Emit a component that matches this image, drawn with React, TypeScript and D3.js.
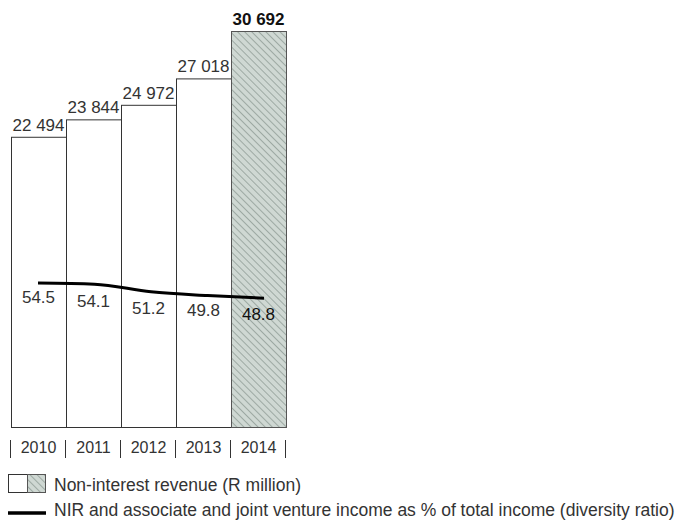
import React from "react";
import * as d3 from "d3";

const years = ["2010", "2011", "2012", "2013", "2014"];
const nir = [22494, 23844, 24972, 27018, 30692];
const nirLabels = ["22 494", "23 844", "24 972", "27 018", "30 692"];
const ratio = [54.5, 54.1, 51.2, 49.8, 48.8];
const ratioLabels = ["54.5", "54.1", "51.2", "49.8", "48.8"];
const legendBars = "Non-interest revenue (R million)";
const legendLine = "NIR and associate and joint venture income as % of total income (diversity ratio)";

const W = 693;
const H = 520;
const FONT = "'Liberation Sans', Arial, sans-serif";
const TXT = "#333";

export default function App() {
  const x = d3.scaleBand<string>().domain(years).range([11, 286]).padding(0);
  const y = d3.scaleLinear().domain([0, 30692]).range([427, 31]);
  const y2 = d3.scaleLinear().domain([0, 150]).range([427, 31]);
  const xl = d3.scalePoint<string>().domain(years).range([38, 264]);
  const line = d3
    .line<number>()
    .x((_, i) => xl(years[i])!)
    .y((d) => y2(d))
    .curve(d3.curveMonotoneX);
  const last = years.length - 1;
  const labelOffsets = [20, 23, 22, 20, 22];

  return (
    <svg width={W} height={H} style={{ position: "absolute", left: 0, top: 0 }} fontFamily={FONT}>
      <defs>
        <pattern id="hatch" patternUnits="userSpaceOnUse" width="5" height="5" patternTransform="rotate(-45)">
          <rect width="5" height="5" fill="#cfd8d3" />
          <line x1="0" y1="0" x2="0" y2="5" stroke="#8d9993" strokeWidth="1.5" />
        </pattern>
      </defs>
      {years.map((yr, i) => (
        <g key={yr}>
          <rect
            x={x(yr)! + 0.5}
            y={y(nir[i]) + 0.5}
            width={x.bandwidth()}
            height={y(0) - y(nir[i])}
            fill={i === last ? "url(#hatch)" : "#fff"}
            stroke={i === last ? "#555" : "#333"}
            strokeWidth={1}
          />
          <text
            x={x(yr)! + x.bandwidth() / 2}
            y={y(nir[i]) - 6}
            textAnchor="middle"
            fontSize={17}
            fontWeight={i === last ? "bold" : "normal"}
            fill={i === last ? "#111" : TXT}
          >
            {nirLabels[i]}
          </text>
          <text
            x={x(yr)! + x.bandwidth() / 2}
            y={y2(ratio[i]) + labelOffsets[i]}
            textAnchor="middle"
            fontSize={17}
            fill={i === last ? "#111" : TXT}
          >
            {ratioLabels[i]}
          </text>
          <text x={x(yr)! + x.bandwidth() / 2} y={453} textAnchor="middle" fontSize={16} fill={TXT}>
            {yr}
          </text>
          <line x1={x(yr)! - 0.5} x2={x(yr)! - 0.5} y1={440} y2={458} stroke="#333" strokeWidth={1} />
        </g>
      ))}
      <line x1={285.5} x2={285.5} y1={440} y2={458} stroke="#333" strokeWidth={1} />
      <path d={line(ratio) || ""} fill="none" stroke="#000" strokeWidth={3} />
      <g>
        <rect x={8.5} y={474.5} width={19} height={18} fill="#fff" stroke="#333" />
        <rect x={27.5} y={474.5} width={18} height={18} fill="url(#hatch)" stroke="#555" />
        <text x={54} y={491} fontSize={17.5} fill={TXT}>
          {legendBars}
        </text>
        <line x1={8} x2={46} y1={513} y2={513} stroke="#000" strokeWidth={3.5} />
        <text x={54} y={516} fontSize={17.5} fill={TXT}>
          {legendLine}
        </text>
      </g>
    </svg>
  );
}
